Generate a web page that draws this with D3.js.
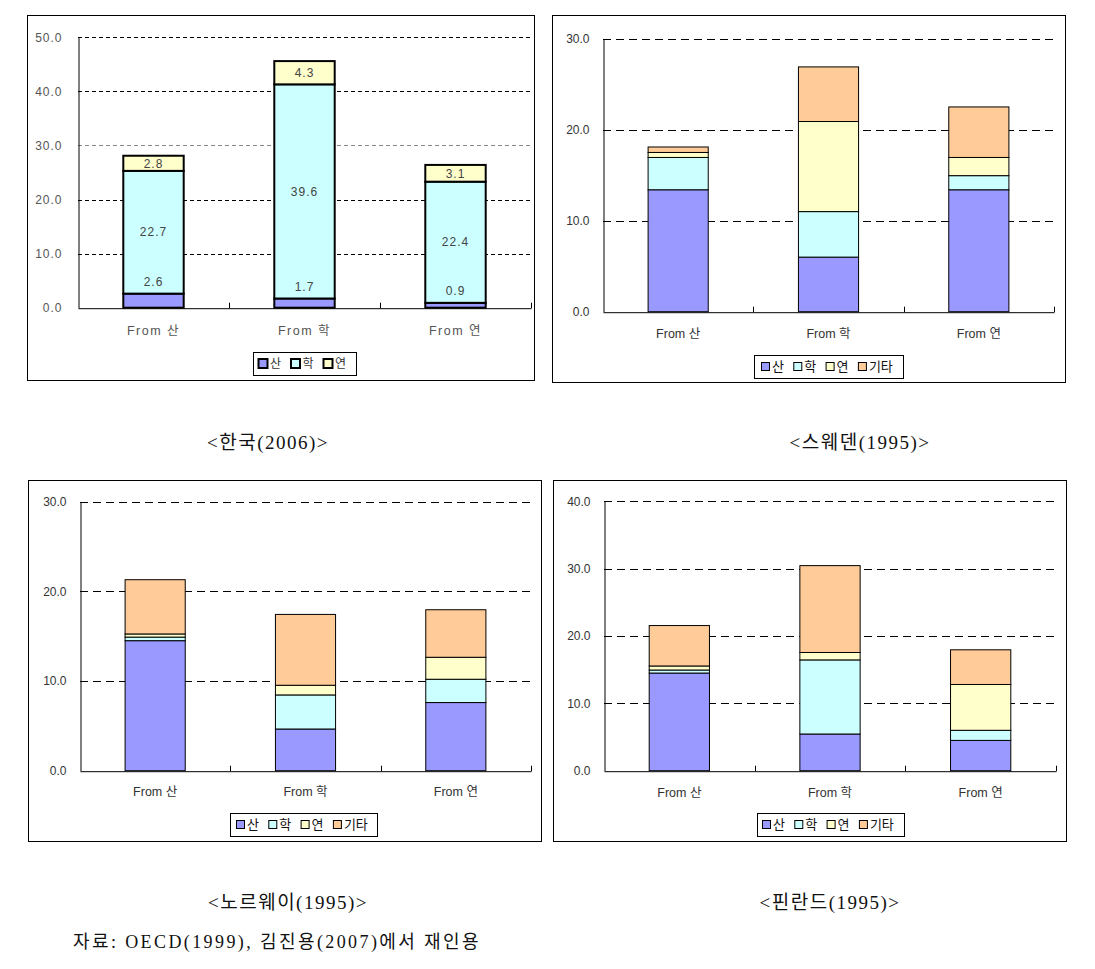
<!DOCTYPE html>
<html><head><meta charset="utf-8">
<script src="https://cdn.jsdelivr.net/npm/d3@7"></script>
<style>body{margin:0;background:#fff;} svg{display:block}</style>
</head><body><svg id="c" width="1095" height="969"></svg>
<script>
// ---------- data ----------
const categories = ["From 산", "From 학", "From 연"];
const koreaSeries = ["산", "학", "연"];
const otherSeries = ["산", "학", "연", "기타"];
const koreaValues   = [[2.6, 22.7, 2.8], [1.7, 39.6, 4.3], [0.9, 22.4, 3.1]];
const swedenValues  = [[13.4, 3.55, 0.55, 0.6], [6.0, 5.0, 9.9, 6.0], [13.4, 1.55, 2.0, 5.55]];
const norwayValues  = [[14.5, 0.4, 0.35, 6.05], [4.65, 3.8, 1.08, 7.9], [7.6, 2.6, 2.45, 5.3]];
const finlandValues = [[14.5, 0.45, 0.6, 6.0], [5.45, 11.0, 1.1, 12.9], [4.5, 1.5, 6.8, 5.15]];
const koreaTicks   = [0, 10, 20, 30, 40, 50];
const swedenTicks  = [0, 10, 20, 30];
const norwayTicks  = [0, 10, 20, 30];
const finlandTicks = [0, 10, 20, 30, 40];
const captions = ["<한국(2006)>", "<스웨덴(1995)>", "<노르웨이(1995)>", "<핀란드(1995)>"];
const sourceNote = "자료: OECD(1999), 김진용(2007)에서 재인용";

// ---------- styles ----------
const seriesColors = {"산": "#9999FF", "학": "#CCFFFF", "연": "#FFFFCC", "기타": "#FFCC99"};
const SANS = "'Liberation Sans', Arial, 'Noto Sans CJK KR', sans-serif";
const KR = "'Noto Sans CJK KR', 'Liberation Sans', sans-serif";
const SERIF = "'Liberation Serif', 'Noto Sans CJK KR', serif";

const svg = d3.select("#c");

const panels = [
  {series: koreaSeries, values: koreaValues, ticks: koreaTicks, max: 50, korea: true,
   frame: {x: 27, y: 15, w: 507, h: 365}, left: 78, right: 531, y0: 307.7, yTop: 37.3,
   legend: {x: 253, y: 352, w: 103, h: 23, off: 5, step: 32.5}, labelDy: 22},
  {series: otherSeries, values: swedenValues, ticks: swedenTicks, max: 30, korea: false,
   frame: {x: 552, y: 15, w: 513, h: 367}, left: 603, right: 1054, y0: 311.7, yTop: 38.7,
   legend: {x: 754, y: 355, w: 149, h: 23, off: 7, step: 32.3}, labelDy: 21},
  {series: otherSeries, values: norwayValues, ticks: norwayTicks, max: 30, korea: false,
   frame: {x: 28, y: 480, w: 513, h: 361}, left: 80, right: 531, y0: 770.7, yTop: 501.7,
   legend: {x: 230, y: 813, w: 147, h: 23, off: 6, step: 32.3}, labelDy: 20},
  {series: otherSeries, values: finlandValues, ticks: finlandTicks, max: 40, korea: false,
   frame: {x: 553, y: 480, w: 513, h: 361}, left: 604, right: 1056, y0: 770.7, yTop: 501.3,
   legend: {x: 757, y: 813, w: 147, h: 23, off: 5, step: 32.3}, labelDy: 21}
];

function drawPanel(cfg) {
  const g = svg.append("g");
  g.append("rect").attr("x", cfg.frame.x + 0.5).attr("y", cfg.frame.y + 0.5)
    .attr("width", cfg.frame.w).attr("height", cfg.frame.h)
    .attr("fill", "#fff").attr("stroke", "#000").attr("stroke-width", 1);

  const x = d3.scaleBand().domain(categories).range([cfg.left, cfg.right]).padding(0);
  const y = d3.scaleLinear().domain([0, cfg.max]).range([cfg.y0, cfg.yTop]);

  // gridlines
  g.append("g").selectAll("line").data(cfg.ticks.filter(t => t > 0)).join("line")
    .attr("x1", cfg.left).attr("x2", cfg.right)
    .attr("y1", d => Math.round(y(d)) + 0.5).attr("y2", d => Math.round(y(d)) + 0.5)
    .attr("stroke", d => (cfg.korea && d === 30) ? "#888" : "#000")
    .attr("stroke-width", 1)
    .attr("stroke-dasharray", cfg.korea ? "4,3" : "8,5");

  // stacked bars
  const rows = categories.map((c, i) => {
    const o = {cat: c};
    cfg.series.forEach((s, j) => o[s] = cfg.values[i][j]);
    return o;
  });
  const stacked = d3.stack().keys(cfg.series)(rows);
  const bw = x.bandwidth() * 0.4;
  const bx = d => x(d.data.cat) + x.bandwidth() / 2 - bw / 2;
  const barStroke = cfg.korea ? 2 : 1;
  stacked.forEach(layer => {
    g.append("g").selectAll("rect").data(layer).join("rect")
      .attr("x", bx).attr("width", bw)
      .attr("y", d => y(d[1])).attr("height", d => y(d[0]) - y(d[1]))
      .attr("fill", seriesColors[layer.key])
      .attr("stroke", "#000").attr("stroke-width", barStroke);
  });

  // data labels (Korea only)
  if (cfg.korea) {
    stacked.forEach((layer, li) => {
      g.append("g").selectAll("text").data(layer).join("text")
        .attr("x", d => x(d.data.cat) + x.bandwidth() / 2)
        .attr("y", d => {
          const h = y(d[0]) - y(d[1]);
          if (li === 0 && h < 14.5) return y(d[1]) - 12;
          return (y(d[0]) + y(d[1])) / 2;
        })
        .attr("dy", "0.35em").attr("text-anchor", "middle")
        .attr("font-family", SANS).attr("font-size", 12).attr("letter-spacing", 1)
        .attr("fill", "#444")
        .text(d => d3.format(".1f")(d[1] - d[0]));
    });
  }

  // y axis
  const yAxis = d3.axisLeft(y).tickValues(cfg.ticks).tickFormat(d3.format(".1f"))
    .tickSizeInner(0).tickSizeOuter(0).tickPadding(cfg.korea ? 16 : 14);
  const ya = g.append("g").attr("transform", `translate(${cfg.left + 0.5},0)`).call(yAxis);
  ya.select(".domain").attr("stroke", "#000");
  ya.selectAll("text").attr("font-family", SANS).attr("font-size", 12)
    .attr("fill", cfg.korea ? "#555" : "#333")
    .attr("letter-spacing", cfg.korea ? 1 : 0);

  // x axis
  const xAxis = d3.axisBottom(x).tickSizeInner(0).tickSizeOuter(0);
  const xa = g.append("g").attr("transform", `translate(0,${cfg.y0 + 0.5})`).call(xAxis);
  xa.select(".domain").attr("stroke", "#000");
  xa.selectAll("text").attr("y", cfg.labelDy).attr("dy", "0.35em")
    .attr("font-family", SANS).attr("font-size", 12.5)
    .attr("fill", cfg.korea ? "#555" : "#333")
    .attr("letter-spacing", cfg.korea ? 1.5 : 0);
  // inner tick marks at category boundaries
  const bounds = categories.slice(1).map(c => x(c)).concat([cfg.right]);
  g.append("g").selectAll("line").data(bounds).join("line")
    .attr("x1", d => Math.round(d) + 0.5).attr("x2", d => Math.round(d) + 0.5)
    .attr("y1", cfg.y0 - 5).attr("y2", cfg.y0 + 0.5)
    .attr("stroke", "#000");

  // legend
  const L = cfg.legend;
  g.append("rect").attr("x", L.x + 0.5).attr("y", L.y + 0.5).attr("width", L.w).attr("height", L.h)
    .attr("fill", "#fff").attr("stroke", "#000");
  const items = g.append("g").selectAll("g").data(cfg.series).join("g")
    .attr("transform", (d, i) => `translate(${L.x + L.off + i * L.step},${L.y + L.h / 2})`);
  const sq = cfg.korea ? 9 : 8;
  items.append("rect").attr("x", 0.5).attr("y", -sq / 2).attr("width", sq).attr("height", sq)
    .attr("fill", d => seriesColors[d]).attr("stroke", "#000")
    .attr("stroke-width", cfg.korea ? 2 : 1);
  items.append("text").attr("x", sq + 3).attr("dy", "0.35em")
    .attr("font-family", KR).attr("font-size", cfg.korea ? 12 : 13)
    .attr("fill", cfg.korea ? "#333" : "#111")
    .text(d => d);
}

panels.forEach(drawPanel);

// captions
const capPos = [[268, 442], [860, 442], [288, 902], [830, 902]];
svg.append("g").selectAll("text").data(captions).join("text")
  .attr("x", (d, i) => capPos[i][0]).attr("y", (d, i) => capPos[i][1])
  .attr("dy", "0.35em").attr("text-anchor", "middle")
  .attr("font-family", SERIF).attr("font-size", 19).attr("fill", "#111")
  .attr("letter-spacing", 1.5)
  .text(d => d);

svg.append("text").attr("x", 73).attr("y", 942).attr("dy", "0.35em")
  .attr("font-family", SERIF).attr("font-size", 18).attr("fill", "#111")
  .attr("letter-spacing", 2.4)
  .text(sourceNote);
</script>
</body></html>
